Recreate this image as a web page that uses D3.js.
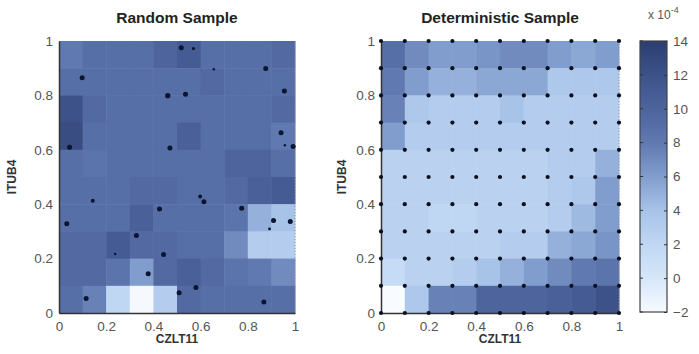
<!DOCTYPE html>
<html>
<head>
<meta charset="utf-8">
<script src="https://cdn.jsdelivr.net/npm/d3@7"></script>
<style>
  body { margin: 0; background: #fff; }
  text { font-family: Arial, "Liberation Sans", sans-serif; }
</style>
</head>
<body>
<script>
var W = 699, H = 354;

// grid cell centres (x and y) 0.05 .. 0.95
var cellCenters = [0.05, 0.15, 0.25, 0.35, 0.45, 0.55, 0.65, 0.75, 0.85, 0.95];
// grid sample nodes for deterministic sample
var gridNodes = [0, 0.1, 0.2, 0.3, 0.4, 0.5, 0.6, 0.7, 0.8, 0.9, 1];
var axisTicks = [0, 0.2, 0.4, 0.6, 0.8, 1];
var colorTicks = [-2, 0, 2, 4, 6, 8, 10, 12, 14];

// values x 10^-4, rows from top (y 0.9-1) to bottom (y 0-0.1)
var randomValues = [
  [8, 9, 9, 9, 10, 11, 9, 9, 9, 9.5],
  [9, 9, 9, 9, 9, 9, 9.5, 9, 9, 9],
  [12, 9.5, 9, 9, 9, 9, 9, 9, 9, 9.5],
  [12.5, 9, 9, 9, 9, 10.5, 9, 9, 9, 8],
  [9, 8.5, 9, 9, 9, 9, 9, 10, 10, 9],
  [9, 9, 9, 9.5, 9.5, 9, 9, 9.5, 10.5, 11],
  [9, 9, 9, 10.5, 9, 9, 9, 8.5, 5, 4],
  [9.5, 9.5, 11, 9.5, 9.5, 9, 9, 7, 3, 3],
  [9.5, 9.5, 8.5, 6, 9.5, 10.5, 9.5, 8.5, 8, 7],
  [9, 7.5, 2, -1.8, 3, 9.5, 9, 9, 9, 9]
];

var deterministicValues = [
  [9, 7, 6, 6, 6.5, 7, 7, 6, 5.5, 6],
  [8, 6, 5, 5, 5.5, 5.5, 5.5, 3.5, 3.5, 3.5],
  [7.5, 3.5, 3, 3, 3, 4, 3, 3, 3, 3],
  [6, 3, 3, 3, 3, 3, 3, 3, 3, 3],
  [2.5, 2.5, 2.5, 2.5, 2.5, 2.5, 2.5, 3, 3, 5],
  [2.5, 2.5, 2.5, 2.5, 2.5, 2.5, 2.5, 3, 3.5, 6],
  [2.5, 2.5, 2, 2, 2.5, 2.5, 2.5, 3, 4.5, 6],
  [2.5, 2.5, 2.5, 2.5, 2.5, 3, 3, 5, 5.5, 6.5],
  [1.5, 2.5, 2.5, 3, 4, 5, 6, 7, 8, 8.5],
  [-2, 3.5, 7.5, 7.5, 10, 10, 10, 10.5, 11, 12]
];

// random sample points
var randomX = [0.518, 0.570, 0.098, 0.656, 0.876, 0.461, 0.536, 0.955, 0.941, 0.957, 0.992, 0.045, 0.470, 0.143, 0.598, 0.614, 0.426, 0.774, 0.033, 0.909, 0.980, 0.892, 0.328, 0.238, 0.443, 0.378, 0.580, 0.509, 0.115, 0.868];
var randomY = [0.975, 0.972, 0.865, 0.896, 0.899, 0.799, 0.804, 0.816, 0.663, 0.617, 0.612, 0.609, 0.607, 0.413, 0.428, 0.409, 0.382, 0.385, 0.328, 0.340, 0.336, 0.309, 0.285, 0.217, 0.215, 0.144, 0.094, 0.074, 0.053, 0.040];
var randomSize = [2.5, 1.6, 2.5, 1.2, 2.5, 2.7, 2.5, 2.5, 2.5, 1.2, 2.5, 2.5, 2.5, 2, 2, 2.5, 2.5, 2.5, 2.5, 2.5, 2.5, 1.4, 2.5, 1.2, 2.5, 2.5, 2.5, 2.5, 2.5, 2.5];

var colorStops = [-2, 0, 2, 4, 6, 8, 10, 12, 14];
var colorRange = ["#f8fbff", "#d6e6f9", "#c0d7f3", "#a8c3e8", "#819dcd", "#6079b0", "#4d649d", "#3d5289", "#2b3e70"];
var color = d3.scaleLinear().domain(colorStops).range(colorRange).clamp(true);

var svg = d3.select("body").append("svg").attr("width", W).attr("height", H);

function panel(x0, x1, title, values, ylabOffset) {
  var xs = d3.scaleLinear().domain([0, 1]).range([x0, x1]);
  var ys = d3.scaleLinear().domain([0, 1]).range([313, 41]);
  var g = svg.append("g");

  var cells = [];
  values.forEach(function (row, r) {
    row.forEach(function (v, c) {
      cells.push({ x: cellCenters[c], y: cellCenters[9 - r], v: v });
    });
  });

  g.selectAll("rect.cell")
    .data(cells)
    .enter()
    .append("rect")
    .attr("class", "cell")
    .attr("x", function (d) { return xs(d.x - 0.05); })
    .attr("y", function (d) { return ys(d.y + 0.05); })
    .attr("width", function (d) { return xs(d.x + 0.05) - xs(d.x - 0.05) + 0.5; })
    .attr("height", function (d) { return ys(d.y - 0.05) - ys(d.y + 0.05) + 0.5; })
    .attr("fill", function (d) { return color(d.v); });

  // dotted right edge
  g.append("line")
    .attr("x1", x1).attr("x2", x1).attr("y1", ys(1)).attr("y2", ys(0))
    .attr("stroke", "#999").attr("stroke-dasharray", "1,2");

  var xAxis = d3.axisBottom(xs).tickValues(axisTicks).tickFormat(d3.format("")).tickSize(0).tickPadding(8);
  var yAxis = d3.axisLeft(ys).tickValues(axisTicks).tickFormat(d3.format("")).tickSize(0).tickPadding(6);

  var ax = g.append("g").attr("transform", "translate(0,313)").call(xAxis);
  var ay = g.append("g").attr("transform", "translate(" + x0 + ",0)").call(yAxis);
  [ax, ay].forEach(function (a) {
    a.select(".domain").attr("stroke", "#333").attr("stroke-width", 1.5);
    a.selectAll("text").attr("font-size", 13.5).attr("fill", "#555")
      .style("font-family", "Arial, 'Liberation Sans', sans-serif");
  });

  g.append("text")
    .attr("x", (x0 + x1) / 2).attr("y", 23)
    .attr("text-anchor", "middle").attr("font-size", 15.5).attr("font-weight", "bold")
    .attr("fill", "#222").text(title);

  g.append("text")
    .attr("x", (x0 + x1) / 2).attr("y", 343)
    .attr("text-anchor", "middle").attr("font-size", 12).attr("font-weight", "bold")
    .attr("fill", "#333").text("CZLT11");

  g.append("text")
    .attr("transform", "translate(" + (x0 - ylabOffset) + ",177) rotate(-90)")
    .attr("text-anchor", "middle").attr("font-size", 12).attr("font-weight", "bold")
    .attr("fill", "#333").text("ITUB4");

  return { xs: xs, ys: ys, g: g };
}

var left = panel(59, 295, "Random Sample", randomValues, 43);
left.g.selectAll("circle.pt")
  .data(randomX)
  .enter()
  .append("circle")
  .attr("class", "pt")
  .attr("cx", function (d) { return left.xs(d); })
  .attr("cy", function (d, i) { return left.ys(randomY[i]); })
  .attr("r", function (d, i) { return randomSize[i]; })
  .attr("fill", "#0b1430");

var right = panel(381, 619, "Deterministic Sample", deterministicValues, 35);
var nodes = [];
gridNodes.forEach(function (gx) {
  gridNodes.forEach(function (gy) { nodes.push([gx, gy]); });
});
right.g.selectAll("circle.pt")
  .data(nodes)
  .enter()
  .append("circle")
  .attr("class", "pt")
  .attr("cx", function (d) { return right.xs(d[0]); })
  .attr("cy", function (d) { return right.ys(d[1]); })
  .attr("r", 2.1)
  .attr("fill", "#0b1020");

// colorbar
var cbX = 640, cbW = 27;
var cs = d3.scaleLinear().domain([-2, 14]).range([312, 41]);
var defs = svg.append("defs");
var grad = defs.append("linearGradient").attr("id", "cbgrad")
  .attr("x1", 0).attr("y1", 1).attr("x2", 0).attr("y2", 0);
grad.selectAll("stop")
  .data(colorStops)
  .enter()
  .append("stop")
  .attr("offset", function (d) { return (d + 2) / 16; })
  .attr("stop-color", function (d) { return color(d); });

svg.append("rect")
  .attr("x", cbX).attr("y", cs(14)).attr("width", cbW).attr("height", cs(-2) - cs(14))
  .attr("fill", "url(#cbgrad)").attr("stroke", "#444").attr("stroke-width", 1.2);

var cAxis = d3.axisRight(cs).tickValues(colorTicks).tickSize(-3).tickPadding(6);
var cg = svg.append("g").attr("transform", "translate(" + (cbX + cbW) + ",0)").call(cAxis);
cg.select(".domain").remove();
cg.selectAll("line").attr("stroke", "#333");
cg.selectAll("text").attr("font-size", 13.5).attr("fill", "#555")
  .style("font-family", "Arial, 'Liberation Sans', sans-serif");
svg.selectAll(".cbleft")
  .data(colorTicks)
  .enter()
  .append("line")
  .attr("class", "cbleft")
  .attr("x1", cbX).attr("x2", cbX + 3)
  .attr("y1", function (d) { return cs(d); }).attr("y2", function (d) { return cs(d); })
  .attr("stroke", "#333");

var exp = svg.append("text").attr("x", 648).attr("y", 19).attr("font-size", 12).attr("fill", "#555");
exp.append("tspan").text("x 10");
exp.append("tspan").attr("dy", -6).attr("font-size", 9).text("-4");
</script>
</body>
</html>
